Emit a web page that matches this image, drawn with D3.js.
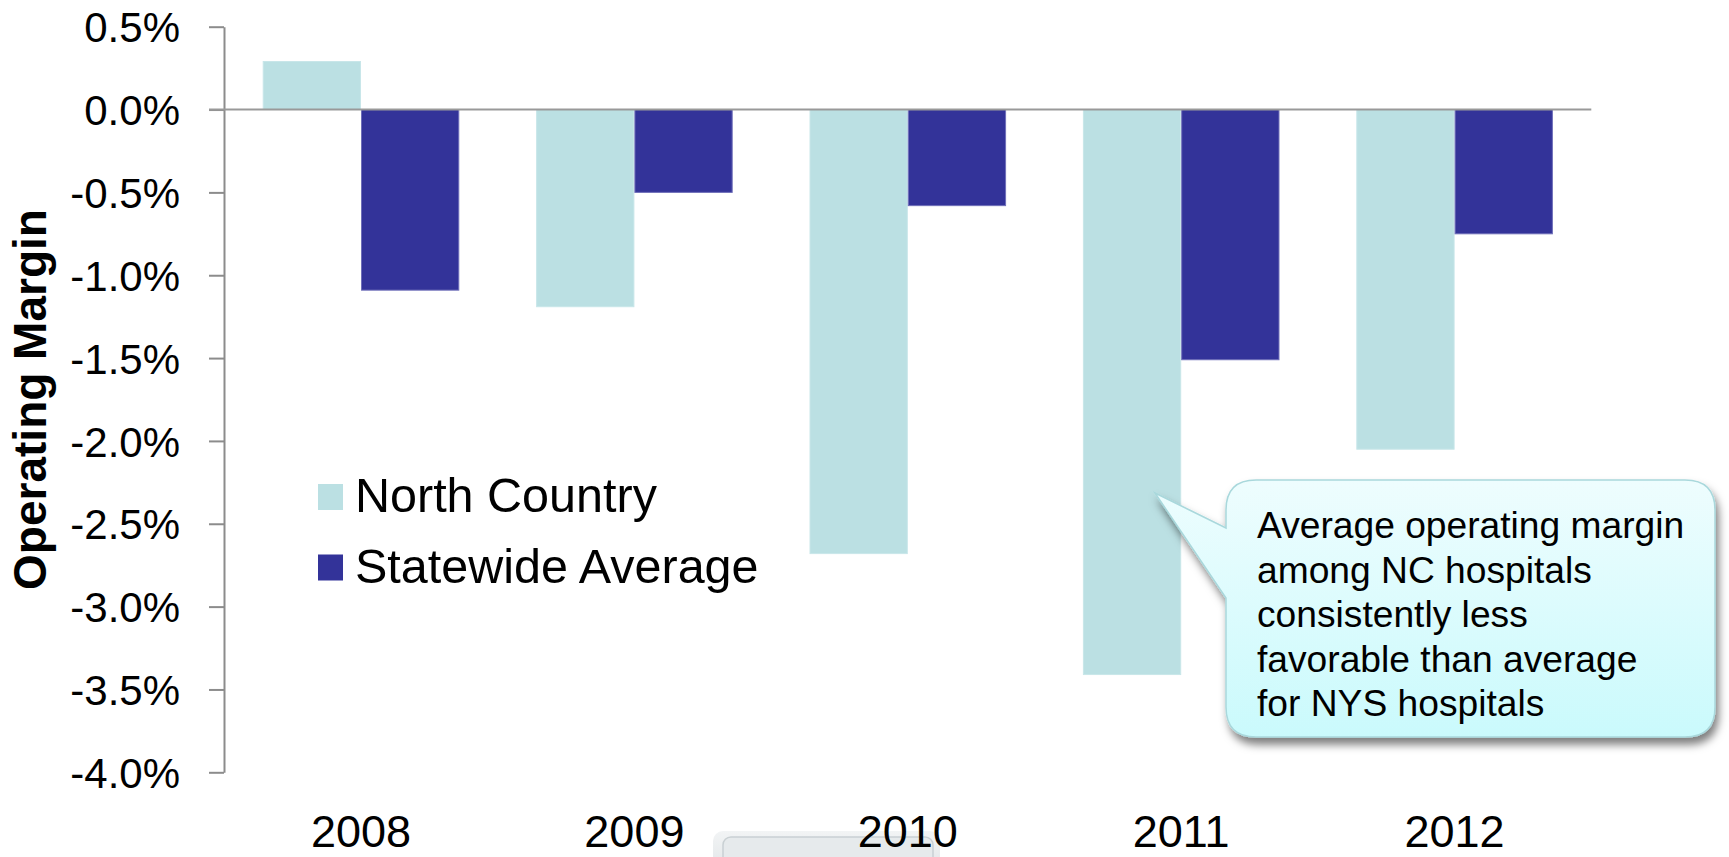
<!DOCTYPE html>
<html><head><meta charset="utf-8">
<script src="https://cdn.jsdelivr.net/npm/d3@7"></script>
<style>
body{margin:0;background:#fff}
svg{display:block}
text{font-family:"Liberation Sans",Arial,sans-serif;fill:#000}
</style>
</head><body>
<svg id="chart" width="1729" height="857"></svg>
<script>
const categories = ["2008","2009","2010","2011","2012"];
const northCountry = [0.29,-1.19,-2.68,-3.41,-2.05];
const statewideAverage = [-1.09,-0.50,-0.58,-1.51,-0.75];
const seriesNames = ["North Country","Statewide Average"];
const yTicks = [0.5,0,-0.5,-1,-1.5,-2,-2.5,-3,-3.5,-4];
const yTitle = "Operating Margin";
const calloutLines = ["Average operating margin","among NC hospitals","consistently less","favorable than average","for NYS hospitals"];

const seriesValues = {"North Country":northCountry,"Statewide Average":statewideAverage};
const colors = {"North Country":"#BBE0E3","Statewide Average":"#333399"};
const strokes = {"North Country":"#C8E6E9","Statewide Average":"#6F6FB9"};

const svg = d3.select("#chart");
const defs = svg.append("defs");
const grad = defs.append("linearGradient").attr("id","cg").attr("x1",0).attr("y1",0).attr("x2",0).attr("y2",1);
grad.append("stop").attr("offset","0%").attr("stop-color","#EEFDFE");
grad.append("stop").attr("offset","100%").attr("stop-color","#CAFAFC");
const wg = defs.append("linearGradient").attr("id","wg").attr("x1",0).attr("y1",0).attr("x2",0).attr("y2",1);
wg.append("stop").attr("offset","0%").attr("stop-color","#F2F4F5");
wg.append("stop").attr("offset","100%").attr("stop-color","#E2E6E8");
const f = defs.append("filter").attr("id","sh").attr("x","-20%").attr("y","-20%").attr("width","140%").attr("height","150%");
f.append("feDropShadow").attr("dx",3).attr("dy",7).attr("stdDeviation",4).attr("flood-color","#000").attr("flood-opacity",0.5);

const x = d3.scaleBand().domain(categories).range([224.3,1591.3]).paddingInner(0.281).paddingOuter(0.1405);
const xs = d3.scaleBand().domain(seriesNames).range([0,x.bandwidth()]);
const y = d3.scaleLinear().domain([-4,0.5]).range([772.3,26.7]);

// faint watermark box at bottom
svg.append("rect").attr("x",713).attr("y",831).attr("width",227).attr("height",40).attr("rx",10).attr("fill","url(#wg)");
svg.append("rect").attr("x",723).attr("y",837).attr("width",210).attr("height",40).attr("rx",8).attr("fill","#E6EAEC").attr("stroke","#C9D0D3").attr("stroke-width",1.5);

// bars
const groups = svg.append("g").selectAll("g").data(categories).join("g")
  .attr("transform",d=>`translate(${x(d)},0)`);
groups.selectAll("rect").data((c,i)=>seriesNames.map(s=>({s,v:seriesValues[s][i]}))).join("rect")
  .attr("x",d=>xs(d.s)+0.5)
  .attr("width",xs.bandwidth()-1)
  .attr("y",d=>Math.min(y(d.v),y(0)))
  .attr("height",d=>Math.abs(y(d.v)-y(0)))
  .attr("fill",d=>colors[d.s])
  .attr("stroke",d=>strokes[d.s]).attr("stroke-width",1);

// y axis
const ya = svg.append("g").attr("transform","translate(224,0)")
  .call(d3.axisLeft(y).tickValues(yTicks).tickSize(15).tickSizeOuter(0).tickPadding(29)
    .tickFormat(d=>d.toFixed(1)+"%"));
ya.select(".domain").attr("stroke","#8C8C8C").attr("stroke-width",2);
ya.selectAll(".tick line").attr("stroke","#8C8C8C").attr("stroke-width",2);
ya.selectAll(".tick text").attr("font-size",42).attr("font-family","'Liberation Sans',Arial,sans-serif").attr("fill","#000").attr("dy","0.36em");

// zero line (category axis)
svg.append("line").attr("x1",209).attr("x2",1591.3).attr("y1",y(0)).attr("y2",y(0))
  .attr("stroke","#999").attr("stroke-width",2);

// category labels
svg.append("g").selectAll("text").data(categories).join("text")
  .attr("x",d=>x(d)+x.bandwidth()/2).attr("y",847)
  .attr("text-anchor","middle").attr("font-size",45).text(d=>d);

// y title
svg.append("text").attr("transform","translate(46,399.5) rotate(-90)")
  .attr("text-anchor","middle").attr("font-size",46).attr("font-weight","bold").text(yTitle);

// legend
const lg = svg.append("g").selectAll("g").data(seriesNames).join("g")
  .attr("transform",(d,i)=>`translate(0,${i*70.5})`);
lg.append("rect").attr("x",318).attr("y",484).attr("width",25).attr("height",26).attr("fill",d=>colors[d]);
lg.append("text").attr("x",355).attr("y",512).attr("font-size",48.5).text(d=>d);

// callout
const L=1226,T=480,R=1715,B=737,r=30,tipX=1155,tipY=493,p1=528,p2=598;
const path = `M${L},${p1} L${tipX},${tipY} L${L},${p2} L${L},${B-r} Q${L},${B} ${L+r},${B} L${R-r},${B} Q${R},${B} ${R},${B-r} L${R},${T+r} Q${R},${T} ${R-r},${T} L${L+r},${T} Q${L},${T} ${L},${T+r} Z`;
svg.append("path").attr("d",path).attr("fill","url(#cg)").attr("stroke","#A9D8DC").attr("stroke-width",1.5).attr("filter","url(#sh)");
svg.append("g").selectAll("text").data(calloutLines).join("text")
  .attr("x",1257).attr("y",(d,i)=>538+i*44.6).attr("font-size",37.2).text(d=>d);
</script>
</body></html>
